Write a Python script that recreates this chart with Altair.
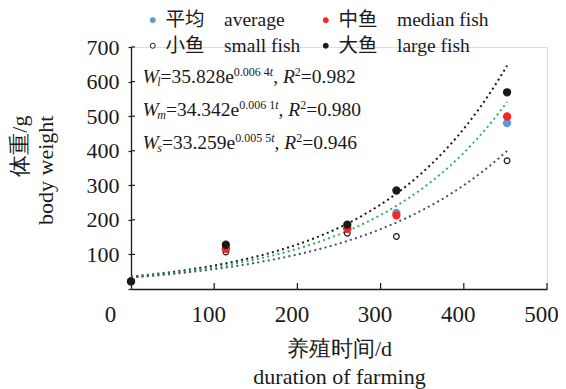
import altair as alt
import pandas as pd

# ---------------- data ----------------
days = [0, 114, 260, 319, 452]
average = [22, 117, 176, 220, 480]
median = [22, 116, 174, 213, 499]
small = [22, 107, 161, 152, 371]
large = [22, 128, 186, 285, 569]

series_labels = ["平均\u3000average", "中鱼\u3000median fish", "小鱼\u3000small fish", "大鱼\u3000large fish"]
series_fill = ["#5b9bd5", "#ff2222", "#ffffff", "#1a1a1a"]
series_stroke = ["#5b9bd5", "#ff2222", "#1a1a1a", "#1a1a1a"]

fit_a = [35.828, 34.342, 33.259]          # large, median, small
fit_b = [0.0064, 0.0061, 0.0055]
fit_colors = ["#1a1a1a", "#2fb34c", "#44546a"]
fit_end = 452

x_ticks = [0, 100, 200, 300, 400, 500]
y_ticks = [0, 100, 200, 300, 400, 500, 600, 700]

eq_lines = [
    [("W", "it"), ("l", "subit"), ("=35.828e", "rm"), ("0.006 4", "sup"), ("t", "supit"),
     (", ", "rm"), ("R", "it"), ("2", "sup"), ("=0.982", "rm")],
    [("W", "it"), ("m", "subit"), ("=34.342e", "rm"), ("0.006 1", "sup"), ("t", "supit"),
     (", ", "rm"), ("R", "it"), ("2", "sup"), ("=0.980", "rm")],
    [("W", "it"), ("s", "subit"), ("=33.259e", "rm"), ("0.005 5", "sup"), ("t", "supit"),
     (", ", "rm"), ("R", "it"), ("2", "sup"), ("=0.946", "rm")],
]

# ---------------- layout / style ----------------
W, H = 416, 242
XMAX, YMAX = 500, 700
FONT = "Liberation Serif, Noto Sans CJK SC"
AXFONT = "Liberation Serif"
INK = "#1a1a1a"
EQ_FONT = 19.5
SS_FONT = 12
eq_x0 = 11.5           # px from plot left
eq_base = [36, 69, 102]  # px from plot top

adv_rm = {c: 0.5 for c in "0123456789"}
adv_rm.update({".": 0.25, ",": 0.25, " ": 0.25, "=": 0.564, "e": 0.444})
adv_it = {"W": 0.833, "R": 0.611, "l": 0.278, "m": 0.722, "s": 0.389, "t": 0.278}


def text_width(s, italic, size):
    table = adv_it if italic else adv_rm
    return sum(table.get(c, 0.5) for c in s) * size


eq_rows = []
for li, pieces in enumerate(eq_lines):
    x = eq_x0
    base = eq_base[li]
    for text, kind in pieces:
        italic = kind in ("it", "subit", "supit")
        if kind.startswith("sub"):
            x -= 1.5
            size, y = SS_FONT, base + 3
        elif kind.startswith("sup"):
            size, y = SS_FONT, base - 7
        else:
            size, y = EQ_FONT, base
        eq_rows.append({"text": text, "ex": x * XMAX / W, "ey": YMAX * (1 - y / H),
                        "size": size, "style": "italic" if italic else "normal"})
        x += text_width(text, italic, size)
eq_df = pd.DataFrame(eq_rows)

# points table (draw order: average, small, median, large)
pts = []
for name, vals, sz in [(series_labels[0], average, 50), (series_labels[2], small, 32),
                       (series_labels[1], median, 50), (series_labels[3], large, 50)]:
    for d, v in zip(days, vals):
        pts.append({"series": name, "day": d, "weight": v, "sz": sz})
pts_df = pd.DataFrame(pts)

xscale = alt.Scale(domain=[0, XMAX], nice=False)
yscale = alt.Scale(domain=[0, YMAX], nice=False)

legend = alt.Legend(
    title=None, orient="none", legendX=12, legendY=-37, columns=2, direction="horizontal",
    symbolSize=25, symbolStrokeWidth=1, labelFont=FONT, labelFontSize=19.5,
    labelColor=INK, labelOffset=3, columnPadding=15, rowPadding=5, padding=0,
    symbolType="circle",
)

x_axis = alt.Axis(
    values=x_ticks, ticks=False, labelPadding=14, labelFlush=False,
    labelOffset={"condition": {"test": "datum.value == 0", "value": -21}, "value": -6},
    title=["养殖时间/d", "duration of farming"],
    titleX=W / 2, titleY=49, titleBaseline="top", titleAlign="center", titleLineHeight=28)

y_axis = alt.Axis(
    values=y_ticks, tickSize=3, labelPadding=9, labelFlush=False,
    labelExpr="datum.value == 0 ? '' : datum.label",
    title=["体重/g", "body weight"], titleAngle=-90, titleLineHeight=26,
    titleX=-122, titleY=68, titleBaseline="top", titleAlign="right")


def X(field):
    return alt.X(field, type="quantitative", scale=xscale, axis=x_axis)


def Y(field):
    return alt.Y(field, type="quantitative", scale=yscale, axis=y_axis)


fits = []
for a, b, col in zip(fit_a, fit_b, fit_colors):
    fits.append(
        alt.Chart(alt.sequence(0, fit_end + 1, 2, as_="t"))
        .transform_calculate(w=f"{a} * exp({b} * datum.t)")
        .mark_line(color=col, strokeWidth=2, strokeDash=[2, 3.3])
        .encode(x=X("t"), y=Y("w"))
    )

points = alt.Chart(pts_df).mark_point(shape="circle", opacity=1, strokeWidth=1.2).encode(
    x=X("day"), y=Y("weight"),
    fill=alt.Fill("series:N", scale=alt.Scale(domain=series_labels, range=series_fill), legend=legend),
    stroke=alt.Stroke("series:N", scale=alt.Scale(domain=series_labels, range=series_stroke), legend=legend),
    size=alt.Size("sz:Q", scale=None, legend=None),
)

xt = alt.Chart(pd.DataFrame({"v": x_ticks[1:]})).mark_rule(color=INK, strokeWidth=1.2).encode(
    x=X("v"), y=alt.value(H), y2=alt.value(H - 6))
yt = alt.Chart(pd.DataFrame({"v": y_ticks[1:]})).mark_rule(color=INK, strokeWidth=1.2).encode(
    y=Y("v"), x=alt.value(0), x2=alt.value(4))

eq_layers = []
for style in ["normal", "italic"]:
    eq_layers.append(
        alt.Chart(eq_df[eq_df["style"] == style]).mark_text(
            align="left", baseline="alphabetic", font=FONT, fontStyle=style, color=INK)
        .encode(x=X("ex"), y=Y("ey"),
                text="text:N", size=alt.Size("size:Q", scale=None, legend=None))
    )

chart = alt.layer(*fits, xt, yt, points, *eq_layers).properties(
    width=W, height=H,
    autosize=alt.AutoSizeParams(type="none"),
    padding={"left": 123, "top": 39, "right": 11, "bottom": 100},
).configure_view(stroke=None).configure(background="white", font=AXFONT).configure_axis(
    labelFont=AXFONT, labelColor=INK, labelOverlap=False,
    titleFont=AXFONT, titleFontSize=22, titleFontWeight="normal", titleColor=INK,
    domainColor=INK, domainWidth=1.3, tickColor=INK, tickWidth=1.2, grid=False,
).configure_axisX(labelFontSize=23).configure_axisY(labelFontSize=22)

chart.save("out.html", embed_options={"renderer": "svg", "actions": False})
